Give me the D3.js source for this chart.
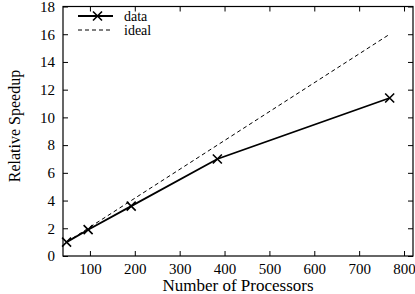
<!DOCTYPE html>
<html>
<head>
<meta charset="utf-8">
<script src="https://cdn.jsdelivr.net/npm/d3@7"></script>
<style>
  body { margin: 0; background: #fff; }
</style>
</head>
<body>
<div id="chart"></div>
<script>
// processors vs. relative speedup
const processors = [48, 96, 192, 384, 768];
const speedup = [1, 1.9, 3.6, 7.0, 11.4];
const idealSpeedup = [1, 2, 4, 8, 16];
const xTicks = [100, 200, 300, 400, 500, 600, 700, 800];
const yTicks = [0, 2, 4, 6, 8, 10, 12, 14, 16, 18];
const seriesNames = ["data", "ideal"];

const width = 415, height = 294;
const margins = {top: 6.5, right: 2, bottom: 38, left: 63};
const font = "'Liberation Serif', 'Times New Roman', Times, 'DejaVu Serif', serif";

const svg = d3.select("#chart").append("svg")
    .attr("width", width)
    .attr("height", height)
    .attr("font-family", font);

const xScale = d3.scaleLinear()
    .domain([40, 820])
    .range([margins.left, width - margins.right]);

const yScale = d3.scaleLinear()
    .domain([0, 18])
    .range([height - margins.bottom, margins.top]);

const tickLen = 5;

// bottom axis (ticks inward)
svg.append("g")
    .attr("transform", `translate(0,${yScale(0)})`)
    .call(d3.axisBottom(xScale).tickValues(xTicks).tickSizeInner(-tickLen).tickSizeOuter(0).tickPadding(7));

// top mirrored ticks
svg.append("g")
    .attr("transform", `translate(0,${yScale(18)})`)
    .call(d3.axisTop(xScale).tickValues(xTicks).tickSizeInner(-tickLen).tickSizeOuter(0).tickFormat(""));

// left axis
svg.append("g")
    .attr("transform", `translate(${xScale(40)},0)`)
    .call(d3.axisLeft(yScale).tickValues(yTicks).tickSizeInner(-tickLen).tickSizeOuter(0).tickPadding(8));

// right mirrored ticks
svg.append("g")
    .attr("transform", `translate(${xScale(820)},0)`)
    .call(d3.axisRight(yScale).tickValues(yTicks).tickSizeInner(-tickLen).tickSizeOuter(0).tickFormat(""));

svg.selectAll("g").attr("font-family", font).attr("font-size", 15);
svg.selectAll(".domain").remove();
svg.selectAll(".tick line").attr("stroke", "#000");
svg.selectAll(".tick text").attr("fill", "#000");

// frame
svg.append("rect")
    .attr("x", xScale(40))
    .attr("y", yScale(18))
    .attr("width", xScale(820) - xScale(40))
    .attr("height", yScale(0) - yScale(18))
    .attr("fill", "none")
    .attr("stroke", "#000")
    .attr("stroke-width", 1.2);

// axis titles
svg.append("text")
    .attr("x", (xScale(40) + xScale(820)) / 2)
    .attr("y", 291)
    .attr("text-anchor", "middle")
    .attr("font-size", 17)
    .text("Number of Processors");

svg.append("text")
    .attr("transform", "translate(20,126) rotate(-90)")
    .attr("text-anchor", "middle")
    .attr("font-size", 16)
    .text("Relative Speedup");

// lines
const line = d3.line()
    .x((d, i) => xScale(processors[i]))
    .y(d => yScale(d));

svg.append("path")
    .datum(idealSpeedup)
    .attr("d", line)
    .attr("fill", "none")
    .attr("stroke", "#000")
    .attr("stroke-width", 1)
    .attr("stroke-dasharray", "4,3");

svg.append("path")
    .datum(speedup)
    .attr("d", line)
    .attr("fill", "none")
    .attr("stroke", "#000")
    .attr("stroke-width", 1.8);

// x markers
const m = 4.5;
function cross(g, cx, cy) {
    g.append("path")
        .attr("d", `M${cx - m},${cy - m}L${cx + m},${cy + m}M${cx - m},${cy + m}L${cx + m},${cy - m}`)
        .attr("stroke", "#000")
        .attr("stroke-width", 1.6)
        .attr("fill", "none");
}
const markers = svg.append("g");
speedup.forEach((v, i) => cross(markers, xScale(processors[i]), yScale(v)));

// legend
const legend = svg.append("g");
const lx0 = 78, lx1 = 113, ly = [16, 30];
legend.append("line")
    .attr("x1", lx0).attr("x2", lx1)
    .attr("y1", ly[0]).attr("y2", ly[0])
    .attr("stroke", "#000").attr("stroke-width", 1.8);
cross(legend, (lx0 + lx1) / 2 + 2, ly[0]);
legend.append("line")
    .attr("x1", lx0).attr("x2", lx1)
    .attr("y1", ly[1]).attr("y2", ly[1])
    .attr("stroke", "#000").attr("stroke-width", 1)
    .attr("stroke-dasharray", "4,3");
legend.selectAll("text.lbl")
    .data(seriesNames)
    .join("text")
    .attr("class", "lbl")
    .attr("x", 124)
    .attr("y", (d, i) => ly[i] + 4.5)
    .attr("font-size", 14)
    .text(d => d);
</script>
</body>
</html>
